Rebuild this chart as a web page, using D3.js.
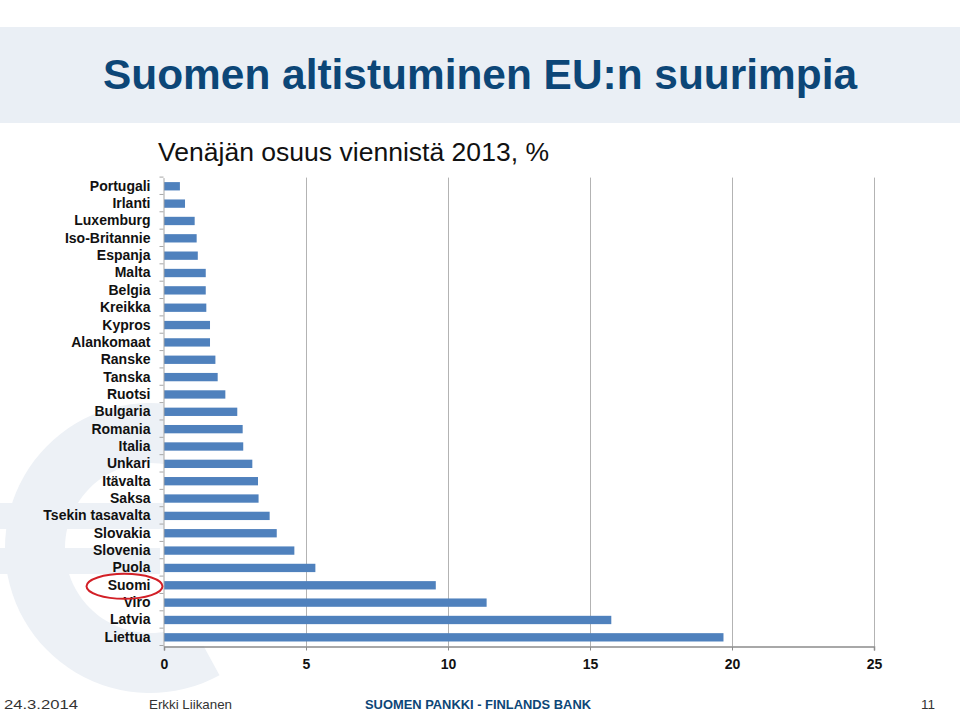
<!DOCTYPE html>
<html>
<head>
<meta charset="utf-8">
<script src="https://cdn.jsdelivr.net/npm/d3@7/dist/d3.min.js"></script>
<style>
  html, body { margin: 0; padding: 0; background: #fff; }
  svg { display: block; }
</style>
</head>
<body>
<svg id="chart" width="960" height="712"></svg>
<script>
// ---- data ----
const categories = ["Portugali","Irlanti","Luxemburg","Iso-Britannie","Espanja","Malta","Belgia","Kreikka","Kypros","Alankomaat","Ranske","Tanska","Ruotsi","Bulgaria","Romania","Italia","Unkari","Itävalta","Saksa","Tsekin tasavalta","Slovakia","Slovenia","Puola","Suomi","Viro","Latvia","Liettua"];
const values = [0.56,0.74,1.08,1.15,1.19,1.47,1.47,1.49,1.62,1.62,1.81,1.89,2.16,2.58,2.77,2.79,3.11,3.31,3.33,3.72,3.97,4.59,5.33,9.57,11.36,15.75,19.7];
const xTicks = [0,5,10,15,20,25];
const highlighted = "Suomi";
const titleText = "Suomen altistuminen EU:n suurimpia";
const subtitleText = "Venäjän osuus viennistä 2013, %";
const footerDate = "24.3.2014";
const footerAuthor = "Erkki Liikanen";
const footerBank = "SUOMEN PANKKI - FINLANDS BANK";
const footerPage = "11";

const svg = d3.select("#chart");
const FONT = "'Liberation Sans', Arial, sans-serif";

// background band
svg.append("rect").attr("x",0).attr("y",27).attr("width",960).attr("height",96).attr("fill","#eaeff5");

// faint euro watermark (drawn as shapes)
const wm = svg.append("g").attr("fill","#edf1f6");
wm.append("path")
  .attr("transform","translate(150,548)")
  .attr("d", d3.arc()({innerRadius:85, outerRadius:145, startAngle:Math.PI-0.5, endAngle:2*Math.PI+0.5}));
wm.append("rect").attr("x",0).attr("y",503).attr("width",170).attr("height",26);
wm.append("rect").attr("x",0).attr("y",548).attr("width",160).attr("height",26);

// title
svg.append("text").attr("x",103).attr("y",89)
  .attr("font-family",FONT).attr("font-size",43).attr("font-weight","bold")
  .attr("fill","#0c4677").attr("textLength",754).attr("lengthAdjust","spacingAndGlyphs")
  .text(titleText);
svg.append("text").attr("x",158).attr("y",161)
  .attr("font-family",FONT).attr("font-size",26)
  .attr("fill","#111").attr("textLength",391).attr("lengthAdjust","spacingAndGlyphs")
  .text(subtitleText);

// scales
const x = d3.scaleLinear().domain([0,25]).range([164,874]);
const y = d3.scaleBand().domain(categories).range([177.6,646]).paddingInner(0.52).paddingOuter(0.26);

// plot area
svg.append("rect").attr("x",x(0)).attr("y",177.6).attr("width",x(25)-x(0)).attr("height",646-177.6).attr("fill","#fff");

// gridlines
svg.append("g").selectAll("line").data(xTicks.filter(d=>d>0)).join("line")
  .attr("x1",d=>x(d)+0.5).attr("x2",d=>x(d)+0.5).attr("y1",177.6).attr("y2",646)
  .attr("stroke","#b3b3b3").attr("stroke-width",1);

// bars
svg.append("g").selectAll("rect").data(categories).join("rect")
  .attr("x",x(0)).attr("y",d=>y(d)).attr("height",y.bandwidth())
  .attr("width",(d,i)=>x(values[i])-x(0)).attr("fill","#4f81bd");

// x axis
const xAxis = d3.axisBottom(x).tickValues(xTicks).tickSize(4).tickFormat(d3.format("d"));
const gx = svg.append("g").attr("transform","translate(0,646.5)").call(xAxis);
gx.select(".domain").attr("stroke","#8c8c8c").attr("stroke-width",1.5);
gx.selectAll(".tick line").attr("stroke","#8c8c8c");
gx.selectAll(".tick text").attr("font-family",FONT).attr("font-size",14).attr("font-weight","bold")
  .attr("fill","#111").attr("dy","1.1em");

// y axis
const yAxis = d3.axisLeft(y).tickSize(0).tickPadding(13);
const gy = svg.append("g").attr("transform","translate(163.5,0)").call(yAxis);
gy.select(".domain").attr("stroke","#a6a6a6");
gy.selectAll(".tick text").attr("font-family",FONT).attr("font-size",14).attr("font-weight","bold").attr("fill","#111");
// y tick marks at band boundaries
const step = y.step();
svg.append("g").selectAll("line").data(d3.range(categories.length+1)).join("line")
  .attr("x1",159.5).attr("x2",163.5)
  .attr("y1",i=>177.6 + i*step - 0.5)
  .attr("y2",i=>177.6 + i*step - 0.5)
  .attr("stroke","#a6a6a6");

// highlight ellipse
const hy = y(highlighted) + y.bandwidth()/2;
svg.append("ellipse").attr("cx",124.5).attr("cy",hy+1).attr("rx",38).attr("ry",12.5)
  .attr("fill","none").attr("stroke","#d21f26").attr("stroke-width",2);

// footer
const ft = svg.append("g").attr("font-family",FONT).attr("font-size",13);
ft.append("text").attr("x",4).attr("y",709).attr("fill","#333").attr("textLength",74).attr("lengthAdjust","spacingAndGlyphs").text(footerDate);
ft.append("text").attr("x",149).attr("y",709).attr("fill","#333").attr("textLength",83).attr("lengthAdjust","spacingAndGlyphs").text(footerAuthor);
ft.append("text").attr("x",365).attr("y",709).attr("fill","#0c4677").attr("font-weight","bold").attr("textLength",226).attr("lengthAdjust","spacingAndGlyphs").text(footerBank);
ft.append("text").attr("x",921).attr("y",709).attr("fill","#333").attr("textLength",14).attr("lengthAdjust","spacingAndGlyphs").text(footerPage);
</script>
</body>
</html>
